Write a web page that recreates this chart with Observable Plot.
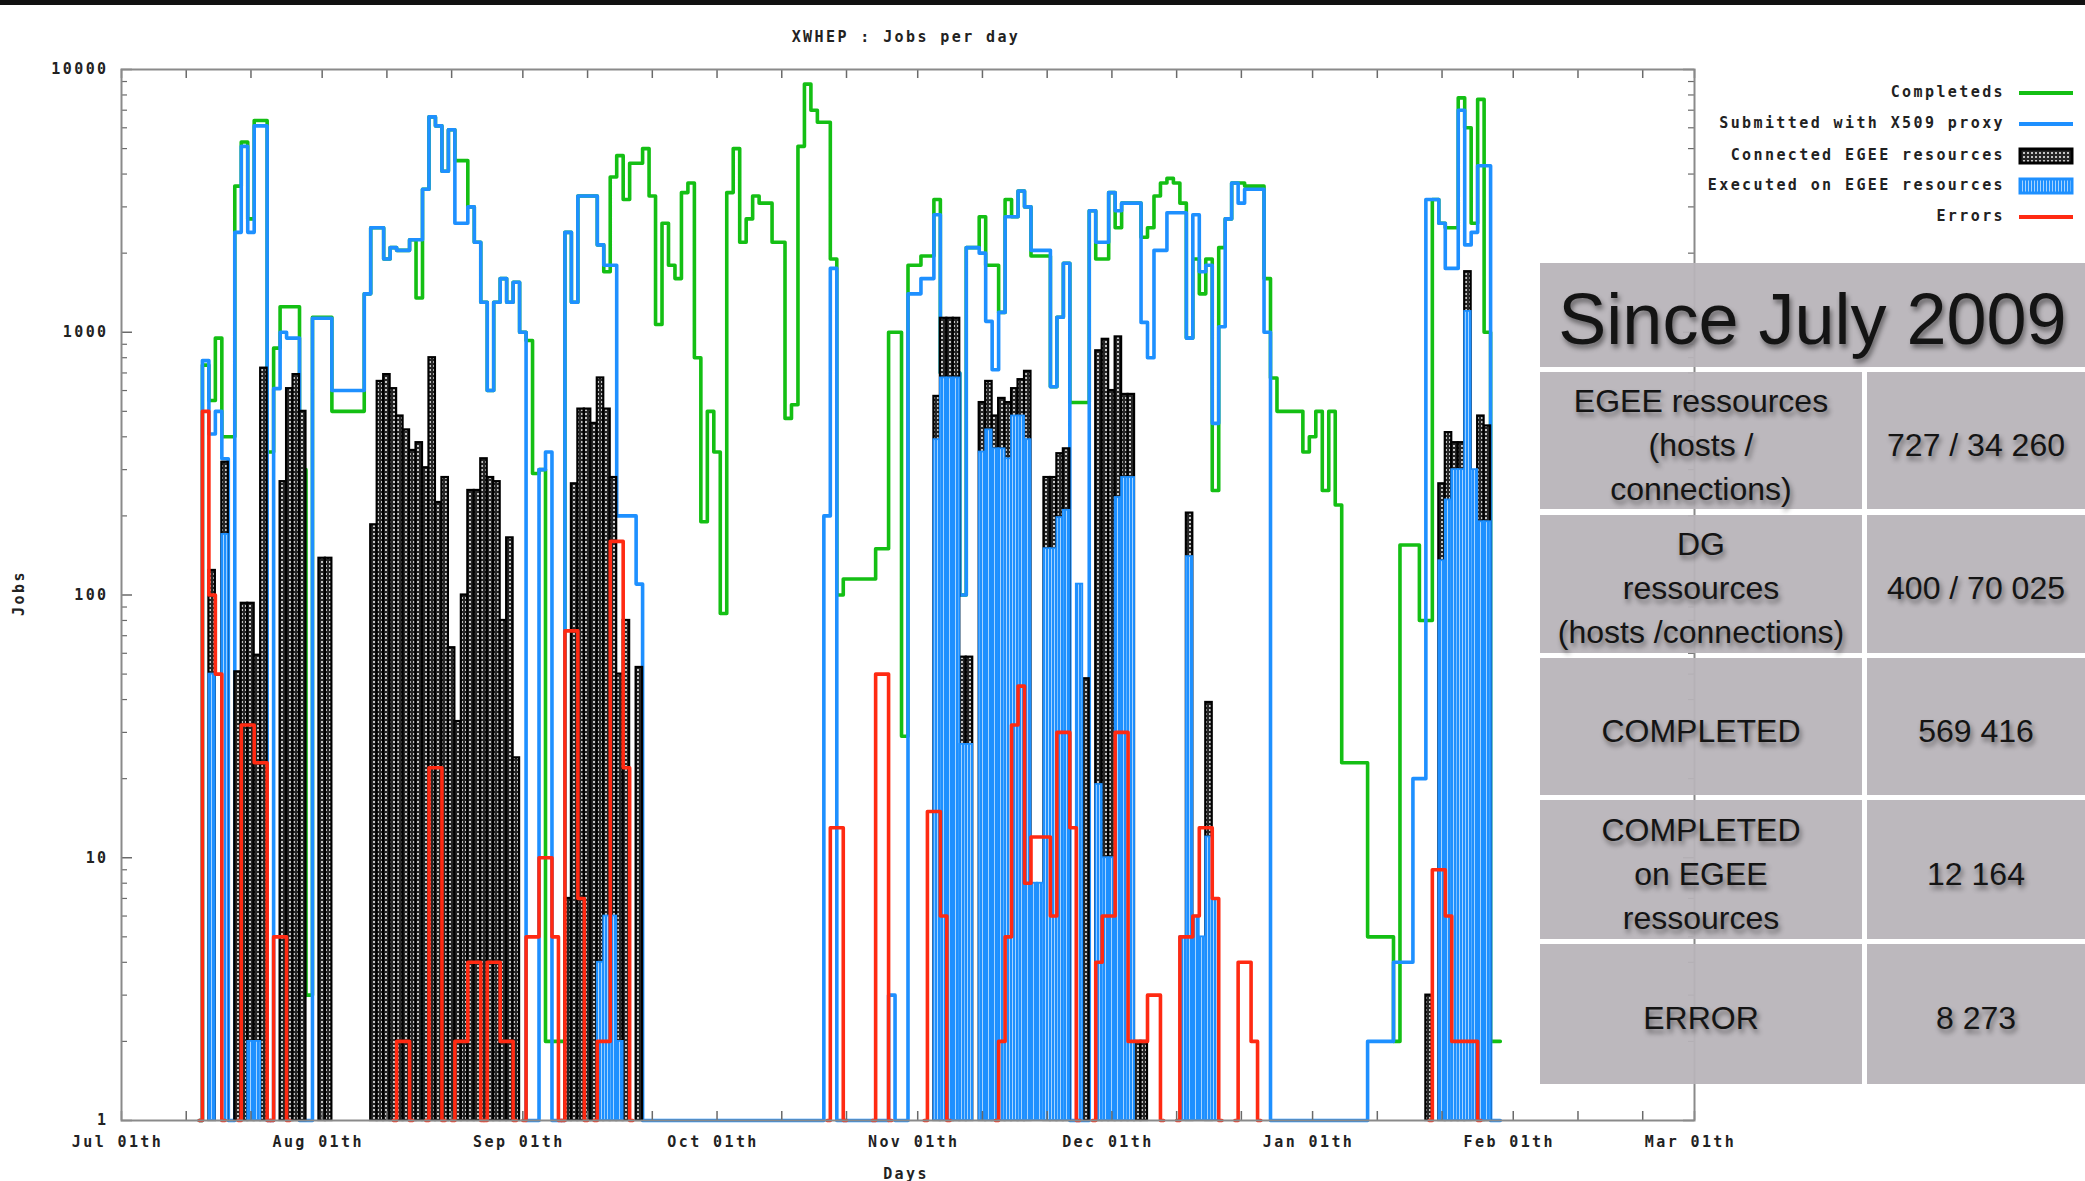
<!DOCTYPE html>
<html>
<head>
<meta charset="utf-8">
<script src="https://cdn.jsdelivr.net/npm/d3@7"></script>
<script src="https://cdn.jsdelivr.net/npm/@observablehq/plot@0.6"></script>
<style>
  html, body { margin: 0; padding: 0; background: #fff; }
  body { width: 2085px; height: 1181px; overflow: hidden; position: relative; }
  #topbar { position: absolute; left: 0; top: 0; width: 2085px; height: 5px; background: #111; }
  #chart { position: absolute; left: 0; top: 0; }
  .mono { font-family: "DejaVu Sans Mono", monospace; font-weight: bold; font-size: 15px; letter-spacing: 2.4px; color: #222; position: absolute; white-space: pre; }
  #title { left: 706px; width: 400px; top: 28px; text-align: center; }
  #xlabel { left: 806px; width: 200px; top: 1165px; text-align: center; }
  #ylabel { left: -21px; width: 80px; top: 584px; text-align: center; transform: rotate(-90deg); }
  .lgtext { right: 80px; text-align: right; }
  .sw { position: absolute; left: 2018px; }
  .cell { position: absolute; background: rgba(184,180,185,0.94); display: flex; align-items: center; justify-content: center; text-align: center;
          font-family: "Liberation Sans", Arial, sans-serif; color: #141414; font-size: 32px; line-height: 44px;
          text-shadow: 2px 4px 5px rgba(0,0,0,0.45); box-sizing: border-box; padding-top: 8px; }
  .cell.big { font-size: 72px; line-height: 80px; padding-top: 7px; }
</style>
</head>
<body>
<svg width="0" height="0" style="position:absolute">
  <defs>
    <pattern id="patConn" width="4" height="4" patternUnits="userSpaceOnUse">
      <rect width="4" height="4" fill="#262626"/>
      <rect x="1" y="1" width="2" height="2" fill="#c4c4c4"/>
    </pattern>
    <pattern id="patExec" width="3" height="3" patternUnits="userSpaceOnUse">
      <rect width="3" height="3" fill="#1e90ff"/>
      <rect x="1" y="0" width="1" height="3" fill="#a6d4ff"/>
    </pattern>
  </defs>
</svg>
<div id="topbar"></div>
<div id="chart"></div>
<div id="title" class="mono">XWHEP : Jobs per day</div>
<div id="xlabel" class="mono">Days</div>
<div id="ylabel" class="mono">Jobs</div>
<div id="legend"></div>
<div id="table"></div>
<script>
// ---------------- data (days counted from 2009-07-01) ----------------
const startDay = 12; // first value of the daily series is 2009-07-13

const completed = [
  1, 750, 550, 950, 400, 400, 3600, 5300, 2700, 6400,
  6400, 350, 870, 1250, 1250, 1250, 300, 3, 1140, 1140,
  1140, 500, 500, 500, 500, 500, 1400, 2500, 2500, 1900,
  2100, 2050, 2050, 2250, 1350, 3500, 6600, 6100, 4100, 5900,
  4500, 4500, 3000, 2200, 1300, 600, 1300, 1600, 1300, 1550,
  1000, 930, 290, 300, 2, 2, 2, 2400, 1300, 3300,
  3300, 3300, 2150, 1700, 3900, 4700, 3200, 4400, 4400, 5000,
  3300, 1070, 2600, 1800, 1600, 3400, 3700, 800, 190, 500,
  350, 85, 3400, 5000, 2200, 2700, 3300, 3100, 3100, 2200,
  2200, 470, 530, 5100, 8800, 7000, 6300, 6300, 1900, 100,
  115, 115, 115, 115, 115, 150, 150, 1000, 1000, 29,
  1800, 1800, 1950, 1950, 3200, 700, 700, 700, 100, 2100,
  2100, 2750, 1800, 1800, 1190, 3200, 2750, 3450, 3000, 1950,
  1950, 1950, 620, 1140, 1830, 540, 540, 540, 2900, 1900,
  1900, 3400, 2500, 3100, 3100, 3100, 2300, 2500, 3300, 3700,
  3850, 3700, 3100, 950, 1900, 1400, 1900, 250, 2100, 2700,
  3700, 3700, 3600, 3600, 3600, 1600, 670, 500, 500, 500,
  500, 350, 400, 500, 250, 500, 220, 23, 23, 23,
  23, 5, 5, 5, 5, 2, 155, 155, 155, 80,
  80, 3200, 2600, 2500, 2500, 7800, 6000, 2600, 7700, 1000,
  2, 2
];

const submitted = [
  1, 780, 410, 500, 330, 1, 2400, 5100, 2400, 6100,
  6100, 1, 610, 1000, 950, 950, 1, 1, 1130, 1130,
  1130, 600, 600, 600, 600, 600, 1400, 2500, 2500, 1900,
  2100, 2050, 2050, 2250, 2250, 3500, 6600, 6100, 4100, 5900,
  2600, 2600, 3000, 2200, 1300, 600, 1300, 1600, 1300, 1550,
  1000, 1, 1, 300, 350, 1, 1, 2400, 1300, 3300,
  3300, 3300, 2150, 1800, 1800, 200, 200, 200, 110, 1,
  1, 1, 1, 1, 1, 1, 1, 1, 1, 1,
  1, 1, 1, 1, 1, 1, 1, 1, 1, 1,
  1, 1, 1, 1, 1, 1, 1, 200, 1750, 1,
  1, 1, 1, 1, 1, 1, 1, 3, 1, 1,
  1400, 1400, 1600, 1600, 2800, 700, 700, 700, 100, 2100,
  2100, 2000, 1100, 720, 1190, 2750, 2750, 3450, 3000, 2050,
  2050, 2050, 620, 1140, 1830, 1, 1, 1, 2900, 2200,
  2200, 3400, 2900, 3100, 3100, 3100, 1090, 800, 2050, 2050,
  2850, 2850, 2850, 950, 2800, 1700, 1800, 450, 1050, 2700,
  3700, 3100, 3500, 3500, 3500, 1000, 1, 1, 1, 1,
  1, 1, 1, 1, 1, 1, 1, 1, 1, 1,
  1, 2, 2, 2, 2, 4, 4, 4, 20, 20,
  3200, 3200, 2600, 1750, 1750, 7000, 2150, 2400, 4300, 4300,
  1, 1
];

const connectedDays = [14, 16, 18, 19, 20, 21, 22, 25, 26, 27, 28, 31, 32,
  39, 40, 41, 42, 43, 44, 45, 46, 47, 48, 49, 50, 51, 52, 53, 54, 55, 56, 57, 58, 59, 60, 61,
  69, 70, 71, 72, 73, 74, 75, 76, 77, 78, 80,
  126, 127, 128, 129, 130, 131, 133, 134, 135, 136, 137, 138, 139, 140, 143, 144, 145, 146, 149,
  151, 152, 153, 154, 155, 156, 157, 158, 165, 168,
  202, 204, 205, 206, 207, 208, 210, 211];
const connectedVals = [124, 320, 51, 93, 93, 59, 730, 270, 610, 690, 500, 138, 138,
  185, 650, 690, 610, 480, 425, 355, 380, 305, 800, 225, 280, 63, 33, 100, 250, 250, 330, 280, 270, 80, 165, 24,
  7, 265, 510, 510, 450, 670, 510, 280, 50, 80, 53,
  570, 1130, 1130, 1130, 58, 58, 540, 650, 480, 560, 540, 610, 660, 710, 280, 280, 345, 360, 48,
  850, 940, 600, 960, 580, 580, 2, 2, 205, 39,
  3, 265, 415, 380, 380, 1700, 480, 440];

const executedDays = [14, 16, 20, 21, 74, 75, 76, 77,
  126, 127, 128, 129, 130, 131, 133, 134, 135, 136, 137, 138, 139, 140, 141, 142, 143, 144, 145, 146, 148,
  151, 152, 153, 154, 155, 156, 164, 165, 166, 167, 168, 169,
  204, 205, 206, 207, 208, 209, 210, 211];
const executedVals = [50, 170, 2, 2, 4, 6, 6, 2,
  390, 670, 670, 670, 27, 27, 350, 425, 360, 360, 330, 480, 480, 390, 8, 8, 150, 150, 197, 210, 110,
  19, 10, 10, 235, 280, 280, 5, 140, 6, 5, 12, 7,
  135, 230, 300, 300, 1200, 300, 190, 190];

const errorDays = [13, 14, 15, 19, 20, 21, 22, 24, 25, 43, 44, 48, 49, 52, 53, 54, 55, 57, 58, 59, 60,
  63, 64, 65, 66, 67, 69, 70, 71, 74, 75, 76, 77, 78, 110, 111, 117, 118, 125, 126, 127,
  136, 137, 138, 139, 140, 141, 142, 143, 144, 145, 146, 147, 151, 152, 153, 154, 155, 156, 157, 158, 159, 160,
  164, 165, 166, 167, 168, 169, 173, 174, 175, 203, 204, 205, 206, 207, 208, 209];
const errorVals = [500, 100, 50, 32, 32, 23, 23, 5, 5, 2, 2, 22, 22, 2, 2, 4, 4, 4, 4, 2, 2,
  5, 5, 10, 10, 5, 73, 73, 7, 2, 2, 160, 160, 22, 13, 13, 50, 50, 15, 15, 6,
  2, 5, 32, 45, 8, 12, 12, 12, 6, 30, 30, 13, 4, 6, 6, 30, 30, 2, 2, 2, 3, 3,
  5, 5, 6, 13, 13, 7, 4, 4, 2, 9, 9, 6, 2, 2, 2, 2];

const yTicks = [1, 10, 100, 1000, 10000];
const monthTicks = ["2009-07-01", "2009-08-01", "2009-09-01", "2009-10-01", "2009-11-01",
  "2009-12-01", "2010-01-01", "2010-02-01", "2010-03-01"];
const tickDaysOfMonth = [1, 11, 21];

const legendNames = ["Completeds", "Submitted with X509 proxy", "Connected EGEE resources",
  "Executed on EGEE resources", "Errors"];
const tableTitle = "Since July 2009";
const tableLabels = ["EGEE ressources<br>(hosts /<br>connections)", "DG<br>ressources<br>(hosts /connections)",
  "COMPLETED", "COMPLETED<br>on EGEE<br>ressources", "ERROR"];
const tableValues = ["727 / 34 260", "400 / 70 025", "569 416", "12 164", "8 273"];

// ---------------- helpers ----------------
const GREEN = "#14bf14", BLUE = "#1e90ff", RED = "#ff2a12";
const DAY = 864e5;
const T0 = Date.UTC(2009, 6, 1);
const t0 = new Date(T0), t1 = new Date(Date.UTC(2010, 2, 1));
const toDate = c => new Date(T0 + c * DAY);

const W = 2085, H = 1181, mL = 121, mR = 391, mT = 69, mB = 61;
const plotW = W - mL - mR, plotH = H - mT - mB;
const msPerPx = (t1 - t0) / plotW;
const decadePx = plotH / 4;
const yFac = px => Math.pow(10, px / decadePx);

const seriesPts = arr => arr.map((v, i) => ({x: toDate(startDay + i), y: v}));
const completedPts = seriesPts(completed);
const submittedPts = seriesPts(submitted);
const boxPts = (days, vals) => days.map((c, i) => ({x1: toDate(c - 0.5), x2: toDate(c + 0.5), y: vals[i]}));
const connectedPts = boxPts(connectedDays, connectedVals);
const executedPts = boxPts(executedDays, executedVals);

// errors: step line split into runs that drop to the baseline
const errorPts = [];
{
  let run = -1, prev = -99;
  errorDays.forEach((c, i) => {
    if (c !== prev + 1) {
      if (run >= 0) errorPts.push({x: toDate(prev + 1), y: 1, run});
      run++;
      errorPts.push({x: toDate(c - 1), y: 1, run});
    }
    errorPts.push({x: toDate(c), y: errorVals[i], run});
    prev = c;
  });
  errorPts.push({x: toDate(prev + 1), y: 1, run});
}

// tick positions
const xTickDates = [];
for (let m = 0; m < 8; m++) for (const d of tickDaysOfMonth) xTickDates.push(new Date(Date.UTC(2009, 6 + m, d)));
xTickDates.push(t1);
const yMinor = [];
for (const dec of yTicks.slice(0, -1)) for (let k = 2; k <= 9; k++) yMinor.push(dec * k);
const monthDates = monthTicks.map(s => new Date(s + "T00:00:00Z"));

const xLen = 9, yMajLen = 11, yMinLen = 6;
const tickStroke = "#6a6a6a";

const fmt = d3.utcFormat("%b %dth");

const plot = Plot.plot({
  width: W, height: H,
  marginLeft: mL, marginRight: mR, marginTop: mT, marginBottom: mB,
  x: {type: "utc", domain: [t0, t1]},
  y: {type: "log", domain: [1, 10000]},
  style: {fontFamily: "'DejaVu Sans Mono', monospace", fontSize: "15px", fontWeight: "bold",
          letterSpacing: "2.4px", color: "#222", background: "transparent", overflow: "visible"},
  marks: [
    Plot.line(completedPts, {x: "x", y: "y", curve: "step", stroke: GREEN, strokeWidth: 3.6}),
    Plot.line(submittedPts, {x: "x", y: "y", curve: "step", stroke: BLUE, strokeWidth: 3.6}),
    Plot.rect(connectedPts, {x1: "x1", x2: "x2", y1: 1, y2: "y", fill: "url(#patConn)", stroke: "#000", strokeWidth: 2.2}),
    Plot.rect(executedPts, {x1: "x1", x2: "x2", y1: 1, y2: "y", fill: "url(#patExec)", stroke: BLUE, strokeWidth: 1.8}),
    Plot.line(errorPts, {x: "x", y: "y", z: "run", curve: "step", stroke: RED, strokeWidth: 3.6}),
    // inward ticks
    Plot.ruleX(xTickDates, {x: d => d, y1: 1, y2: yFac(xLen), stroke: tickStroke, strokeWidth: 1.5}),
    Plot.ruleX(xTickDates, {x: d => d, y1: 10000 / yFac(xLen), y2: 10000, stroke: tickStroke, strokeWidth: 1.5}),
    Plot.ruleY(yTicks, {y: d => d, x1: t0, x2: new Date(+t0 + yMajLen * msPerPx), stroke: tickStroke, strokeWidth: 1.5}),
    Plot.ruleY(yTicks, {y: d => d, x1: new Date(+t1 - yMajLen * msPerPx), x2: t1, stroke: tickStroke, strokeWidth: 1.5}),
    Plot.ruleY(yMinor, {y: d => d, x1: t0, x2: new Date(+t0 + yMinLen * msPerPx), stroke: tickStroke, strokeWidth: 1.2}),
    Plot.ruleY(yMinor, {y: d => d, x1: new Date(+t1 - yMinLen * msPerPx), x2: t1, stroke: tickStroke, strokeWidth: 1.2}),
    Plot.frame({stroke: "#8a8a8a", strokeWidth: 2}),
    Plot.axisY(yTicks, {tickSize: 0, tickPadding: 13, tickFormat: d => String(d), label: null}),
    Plot.axisX(monthDates, {tickSize: 0, tickPadding: 16, dx: -4, tickFormat: fmt, label: null})
  ]
});
document.getElementById("chart").appendChild(plot);

// ---------------- legend ----------------
const legendY = [93, 124, 156, 186, 217];
const legendEl = document.getElementById("legend");
legendNames.forEach((name, i) => {
  const t = document.createElement("div");
  t.className = "mono lgtext";
  t.style.top = (legendY[i] - 10) + "px";
  t.textContent = name;
  legendEl.appendChild(t);
  const sw = document.createElementNS("http://www.w3.org/2000/svg", "svg");
  sw.setAttribute("class", "sw");
  sw.setAttribute("width", 56); sw.setAttribute("height", 18);
  sw.style.top = (legendY[i] - 9) + "px";
  let inner;
  if (i === 0) inner = `<line x1="1" x2="55" y1="9" y2="9" stroke="${GREEN}" stroke-width="4"/>`;
  else if (i === 1) inner = `<line x1="1" x2="55" y1="9" y2="9" stroke="${BLUE}" stroke-width="4"/>`;
  else if (i === 2) inner = `<rect x="2" y="2" width="52" height="14" fill="url(#patConn)" stroke="#000" stroke-width="3"/>`;
  else if (i === 3) inner = `<rect x="2" y="2" width="52" height="14" fill="url(#patExec)" stroke="${BLUE}" stroke-width="3"/>`;
  else inner = `<line x1="1" x2="55" y1="9" y2="9" stroke="${RED}" stroke-width="4"/>`;
  sw.innerHTML = inner;
  legendEl.appendChild(sw);
});

// ---------------- table overlay ----------------
const tbl = document.getElementById("table");
const addCell = (left, top, width, height, html, cls) => {
  const c = document.createElement("div");
  c.className = "cell" + (cls ? " " + cls : "");
  Object.assign(c.style, {left: left + "px", top: top + "px", width: width + "px", height: height + "px"});
  c.innerHTML = html;
  tbl.appendChild(c);
};
addCell(1540, 263, 545, 104, tableTitle, "big");
const rowTops = [372, 515, 658, 800, 944];
const rowHeights = [137, 138, 137, 139, 140];
tableLabels.forEach((lab, i) => {
  addCell(1540, rowTops[i], 322, rowHeights[i], lab);
  addCell(1867, rowTops[i], 218, rowHeights[i], tableValues[i]);
});
</script>
</body>
</html>
